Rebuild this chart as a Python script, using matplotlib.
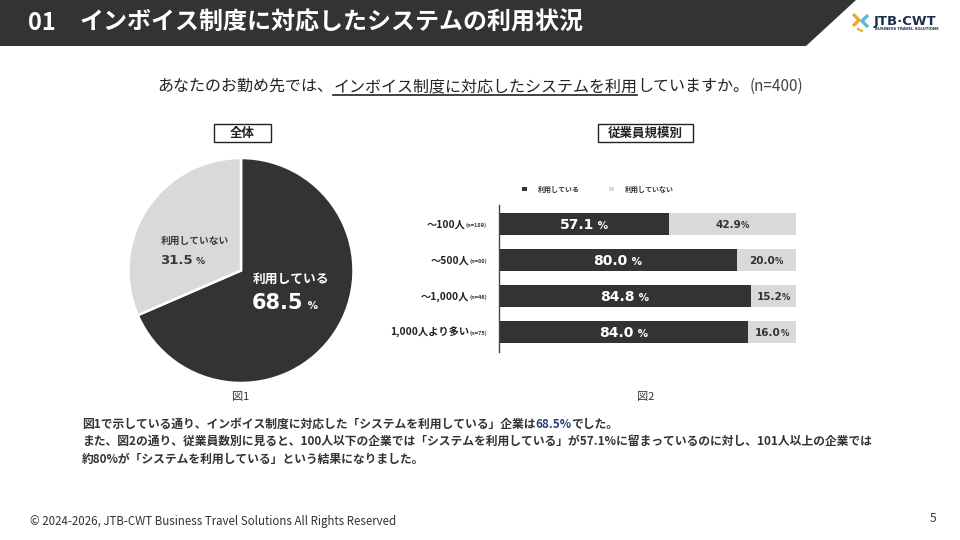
import matplotlib
matplotlib.use('Agg')
import matplotlib.pyplot as plt
from matplotlib.patches import Polygon, Rectangle
from matplotlib.transforms import IdentityTransform
from matplotlib.lines import Line2D

# ---------------- data ----------------
pie_labels = ['利用している', '利用していない']
pie_values = [68.5, 31.5]

categories = ['〜100人', '〜500人', '〜1,000人', '1,000人より多い']
sample_sizes = ['(n=189)', '(n=80)', '(n=46)', '(n=75)']
using = [57.1, 80.0, 84.8, 84.0]
not_using = [42.9, 20.0, 15.2, 16.0]
series_names = ['利用している', '利用していない']

# ---------------- style ----------------
JP = ['Noto Sans CJK JP', 'DejaVu Sans']
NUM = ['DejaVu Sans']
DARK = '#333333'
LIGHT = '#d9d9d9'
W, H = 960, 540

plt.rcParams['font.family'] = JP
fig = plt.figure(figsize=(9.6, 5.4), dpi=100)
fig.patch.set_facecolor('white')
R = fig.canvas.get_renderer()

# overlay axes in pixel coordinates (y downwards)
ov = fig.add_axes([0, 0, 1, 1], zorder=5)
ov.set_xlim(0, W)
ov.set_ylim(H, 0)
ov.axis('off')
ov.patch.set_alpha(0)


def disp(x, y):
    """image pixel (y down) -> display coords"""
    return x, H - y


def composite(X, Y, pieces, ha='left', zorder=10):
    """place text pieces side by side; X, Y display coords of baseline anchor"""
    texts = []
    for s, kw in pieces:
        t = fig.text(0, 0, s, ha='left', va='baseline', zorder=zorder, **kw)
        t.set_transform(IdentityTransform())
        texts.append(t)
    widths = [t.get_window_extent(R).width for t in texts]
    total = sum(widths)
    if ha == 'center':
        start = X - total / 2
    elif ha == 'right':
        start = X - total
    else:
        start = X
    spans = []
    for t, w in zip(texts, widths):
        t.set_position((start, Y))
        spans.append((start, start + w))
        start += w
    return texts, spans


# ---------------- header ----------------
ov.add_patch(Polygon([(0, 0), (856, 0), (806, 46), (0, 46)], closed=True,
                     facecolor=DARK, edgecolor='none', zorder=1))
ov.text(28, 23, '01', color='white', fontsize=17, fontweight='bold',
        va='center', ha='left', family=JP, zorder=3)
ov.text(80, 23, 'インボイス制度に対応したシステムの利用状況', color='white',
        fontsize=17.3, fontweight='bold', va='center', ha='left', family=JP, zorder=3)

# logo
ov.add_line(Line2D([853, 859, 853], [14, 20, 26], color='#f0a830', lw=2.4,
                   solid_capstyle='butt', zorder=3))
ov.add_line(Line2D([868, 862, 868], [15, 21, 27], color='#5bb8d8', lw=2.4,
                   solid_capstyle='butt', zorder=3))
ov.add_line(Line2D([858, 862], [29, 31], color='#f0a830', lw=1.6, zorder=3))
ov.text(874, 21, 'JTB·CWT', fontsize=9.5, fontweight='bold', color='#1f2d4d',
        va='center', ha='left', family=['DejaVu Sans'], zorder=3)
ov.text(875, 29.5, 'BUSINESS TRAVEL SOLUTIONS', fontsize=2.7, fontweight='bold',
        color='#1f2d4d', va='center', ha='left', family=['DejaVu Sans'], zorder=3)

# ---------------- question ----------------
qx, qy = disp(480, 91)
qkw = dict(fontsize=11.5, color='#222222', family=JP)
_, spans = composite(qx, qy, [
    ('あなたのお勤め先では、', qkw),
    ('インボイス制度に対応したシステムを利用', qkw),
    ('していますか。', qkw),
    ('(n=400)', dict(fontsize=11, color='#444444', family=JP)),
], ha='center')
x0, x1 = spans[1]
ov.add_line(Line2D([x0, x1], [95, 95], color='#222222', lw=1.2, zorder=3))

# ---------------- section boxes ----------------
for cx, label, w in [(242.5, '全体', 57), (645.5, '従業員規模別', 95)]:
    ov.add_patch(Rectangle((cx - w / 2, 124), w, 18, facecolor='white',
                           edgecolor='#222222', lw=1.0, zorder=2))
    ov.text(cx, 133.5, label, fontsize=9, fontweight='bold', color='#222222',
            ha='center', va='center', family=JP, zorder=3)

ov.text(241, 397, '図1', fontsize=8, color='#333333', ha='center', va='center', family=JP)
ov.text(646, 397, '図2', fontsize=8, color='#333333', ha='center', va='center', family=JP)

# ---------------- pie ----------------
r = 112.5
pax = fig.add_axes([(241 - r) / W, 1 - (270.5 + r) / H, 2 * r / W, 2 * r / H])
pax.pie(pie_values, colors=[DARK, LIGHT], startangle=90, counterclock=False,
        wedgeprops=dict(edgecolor='white', linewidth=1.8), radius=1)
pax.set_xlim(-1, 1)
pax.set_ylim(-1, 1)

# pie labels
composite(*disp(253, 283), [(pie_labels[0], dict(fontsize=9.2, fontweight='bold',
                                                   color='white', family=JP))])
composite(*disp(252, 309), [
    (f'{pie_values[0]:.1f}', dict(fontsize=15, fontweight='bold', color='white', family=NUM)),
    (' %', dict(fontsize=7.5, fontweight='bold', color='white', family=NUM)),
])
composite(*disp(161, 244), [(pie_labels[1], dict(fontsize=7, fontweight='bold',
                                                   color='#3a3a3a', family=JP))])
composite(*disp(160, 264), [
    (f'{pie_values[1]:.1f}', dict(fontsize=9.5, fontweight='bold', color='#3a3a3a', family=NUM)),
    (' %', dict(fontsize=6.5, fontweight='bold', color='#3a3a3a', family=NUM)),
])

# ---------------- bars ----------------
bax = fig.add_axes([499 / W, 1 - 352 / H, 297 / W, 147 / H])
ypos = list(range(len(categories)))
b1 = bax.barh(ypos, using, height=0.61, color=DARK, label=series_names[0])
b2 = bax.barh(ypos, not_using, left=using, height=0.61, color=LIGHT, label=series_names[1])
bax.set_xlim(0, 100)
bax.set_ylim(3.55, -0.53)
for s in ['top', 'right', 'bottom']:
    bax.spines[s].set_visible(False)
bax.spines['left'].set_color('#444444')
bax.spines['left'].set_linewidth(1.0)
bax.set_xticks([])
bax.set_yticks([])
bax.patch.set_alpha(0)

leg = bax.legend(handles=[b1, b2], ncol=2, loc='center', frameon=False,
                 bbox_to_anchor=(598 / W, 1 - 189 / H), bbox_transform=fig.transFigure,
                 prop=dict(family=JP, size=5, weight='bold'), handlelength=0.7,
                 handleheight=0.7, columnspacing=4.2, handletextpad=1.6)
for t in leg.get_texts():
    t.set_color('#333333')

for i, (cat, n, u, nu) in enumerate(zip(categories, sample_sizes, using, not_using)):
    _, yc = bax.transData.transform((0, i))
    composite(487, yc - 3.2, [
        (cat, dict(fontsize=7.4, fontweight='bold', color='#222222', family=JP)),
        (n, dict(fontsize=4, fontweight='bold', color='#333333', family=JP)),
    ], ha='right')
    xd, _ = bax.transData.transform((u / 2, i))
    composite(xd, yc - 5, [
        (f'{u:.1f}', dict(fontsize=10, fontweight='bold', color='white', family=NUM)),
        (' %', dict(fontsize=7.5, fontweight='bold', color='white', family=NUM)),
    ], ha='center')
    xl, _ = bax.transData.transform((u + nu / 2, i))
    composite(xl, yc - 4, [
        (f'{nu:.1f}', dict(fontsize=7.5, fontweight='bold', color='#333333', family=NUM)),
        ('%', dict(fontsize=6, fontweight='bold', color='#333333', family=NUM)),
    ], ha='center')

# ---------------- commentary ----------------
ckw = dict(fontsize=8.5, fontweight='bold', color='#333333', family=JP)
bkw = dict(fontsize=8.5, fontweight='bold', color='#2a3f7a', family=JP)
composite(*disp(82, 428), [
    ('図1で示している通り、インボイス制度に対応した「システムを利用している」企業は', ckw),
    (f'{pie_values[0]:.1f}%', bkw),
    ('でした。', ckw),
])
composite(*disp(82, 445), [
    ('また、図2の通り、従業員数別に見ると、100人以下の企業では「システムを利用している」が'
     f'{using[0]:.1f}%に留まっているのに対し、101人以上の企業では', ckw)])
composite(*disp(82, 463), [('約80%が「システムを利用している」という結果になりました。', ckw)])

# ---------------- footer ----------------
ov.text(30, 521, '© 2024-2026, JTB-CWT Business Travel Solutions All Rights Reserved',
        fontsize=8.3, color='#333333', ha='left', va='center', family=JP)
ov.text(933, 518, '5', fontsize=8.5, color='#333333', ha='center', va='center', family=JP)

fig.savefig('out.png', dpi=100, facecolor='white')
